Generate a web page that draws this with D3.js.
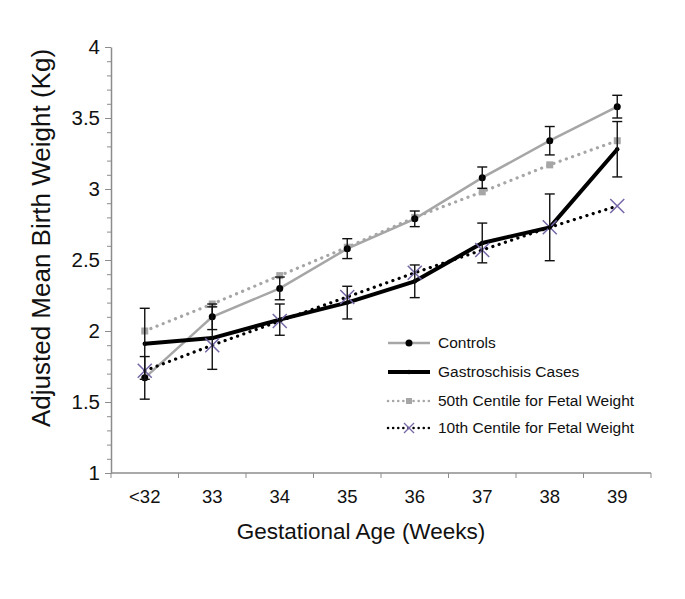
<!DOCTYPE html>
<html>
<head>
<meta charset="utf-8">
<script src="https://cdn.jsdelivr.net/npm/d3@7"></script>
<style>
  html, body { margin: 0; padding: 0; background: #fff; }
  svg { display: block; font-family: "Liberation Sans", Arial, sans-serif; }
</style>
</head>
<body>
<svg id="chart" width="685" height="599"></svg>
<script>
// ---- data ----
const categories = ["<32", "33", "34", "35", "36", "37", "38", "39"];
const controls = [1.67, 2.10, 2.30, 2.58, 2.79, 3.08, 3.34, 3.58];
const controlsErr = [0.15, 0.09, 0.08, 0.07, 0.055, 0.075, 0.10, 0.08];
const gastro = [1.91, 1.95, 2.08, 2.20, 2.35, 2.62, 2.73, 3.28];
const gastroErr = [0.25, 0.22, 0.11, 0.115, 0.115, 0.14, 0.235, 0.195];
const centile50 = [2.00, 2.19, 2.39, 2.59, 2.80, 2.98, 3.17, 3.34];
const centile10 = [1.72, 1.90, 2.07, 2.24, 2.41, 2.57, 2.73, 2.88];
const yTicks = [1, 1.5, 2, 2.5, 3, 3.5, 4];
const seriesNames = ["Controls", "Gastroschisis Cases", "50th Centile for Fetal Weight", "10th Centile for Fetal Weight"];

(function () {
// ---- layout ----
const svg = d3.select("#chart");
const mLeft = 111, mRight = 651, mTop = 47, mBottom = 473;
const axisColor = "#8c8c8c";
const grey = "#a6a6a6";
const purple = "#7566a6";

const x = d3.scaleBand().domain(categories).range([mLeft, mRight]).padding(0);
const cx = d => x(d) + x.bandwidth() / 2;
const y = d3.scaleLinear().domain([1, 4]).range([mBottom, mTop]);

// y axis minor ticks
const minor = d3.range(10, 41).map(v => v / 10).filter(v => Math.abs(v * 2 - Math.round(v * 2)) > 1e-6);
svg.append("g").attr("transform", `translate(${mLeft},0)`)
  .call(d3.axisLeft(y).tickValues(minor).tickSize(4).tickFormat(""))
  .call(g => g.selectAll("line").attr("stroke", axisColor).attr("stroke-width", 1))
  .call(g => g.select(".domain").remove());

// y axis major
svg.append("g").attr("transform", `translate(${mLeft},0)`)
  .call(d3.axisLeft(y).tickValues(yTicks).tickSize(6).tickSizeOuter(0).tickPadding(5).tickFormat(d3.format("")))
  .call(g => g.select(".domain").attr("stroke", axisColor).attr("stroke-width", 1.5))
  .call(g => g.selectAll("line").attr("stroke", axisColor).attr("stroke-width", 1))
  .call(g => g.selectAll("text").attr("font-size", 20.5).attr("fill", "#111").attr("font-family", "Liberation Sans, Arial, sans-serif"));

// x axis
const xb = svg.append("g").attr("transform", `translate(0,${mBottom})`);
xb.append("line").attr("x1", mLeft).attr("x2", mRight).attr("y1", 0).attr("y2", 0)
  .attr("stroke", axisColor).attr("stroke-width", 1.5);
const boundaries = categories.map(c => x(c)).concat([x(categories[categories.length - 1]) + x.bandwidth()]);
xb.selectAll("line.tk").data(boundaries).enter().append("line").attr("class", "tk")
  .attr("x1", d => d).attr("x2", d => d).attr("y1", 0).attr("y2", 5)
  .attr("stroke", axisColor).attr("stroke-width", 1);
xb.selectAll("text").data(categories).enter().append("text")
  .attr("x", d => cx(d)).attr("y", 30).attr("text-anchor", "middle")
  .attr("font-size", 18.5).attr("fill", "#111").text(d => d);

// titles
svg.append("text").attr("x", 361).attr("y", 539).attr("text-anchor", "middle")
  .attr("font-size", 22.5).attr("fill", "#111").text("Gestational Age (Weeks)");
svg.append("text").attr("transform", "translate(50,238) rotate(-90)").attr("text-anchor", "middle")
  .attr("font-size", 26).attr("fill", "#111").text("Adjusted Mean Birth Weight (Kg)");

const line = d3.line().x((d, i) => cx(categories[i])).y(d => y(d));

// lines
svg.append("path").datum(controls).attr("d", line).attr("fill", "none")
  .attr("stroke", grey).attr("stroke-width", 2.5);
svg.append("path").datum(centile50).attr("d", line).attr("fill", "none")
  .attr("stroke", grey).attr("stroke-width", 3.2).attr("stroke-linecap", "round").attr("stroke-dasharray", "0.1 6.5");
svg.append("path").datum(centile10).attr("d", line).attr("fill", "none")
  .attr("stroke", "#000").attr("stroke-width", 3.2).attr("stroke-linecap", "round").attr("stroke-dasharray", "0.1 6.5");
svg.append("path").datum(gastro).attr("d", line).attr("fill", "none")
  .attr("stroke", "#000").attr("stroke-width", 4).attr("stroke-linejoin", "round");

// markers
svg.append("g").selectAll("rect").data(centile50).enter().append("rect")
  .attr("x", (d, i) => cx(categories[i]) - 3.5).attr("y", d => y(d) - 3.5)
  .attr("width", 7).attr("height", 7).attr("fill", grey);
const xs = 7;
svg.append("g").selectAll("path").data(centile10).enter().append("path")
  .attr("d", (d, i) => {
    const px = cx(categories[i]), py = y(d);
    return `M${px - xs},${py - xs}L${px + xs},${py + xs}M${px - xs},${py + xs}L${px + xs},${py - xs}`;
  })
  .attr("stroke", purple).attr("stroke-width", 1.5).attr("fill", "none");
svg.append("g").selectAll("circle").data(controls).enter().append("circle")
  .attr("cx", (d, i) => cx(categories[i])).attr("cy", d => y(d)).attr("r", 3.5).attr("fill", "#000");
svg.append("g").selectAll("circle").data(gastro).enter().append("circle")
  .attr("cx", (d, i) => cx(categories[i])).attr("cy", d => y(d)).attr("r", 2.2).attr("fill", "#000");

// error bars
function errorBars(vals, errs) {
  const g = svg.append("g").attr("stroke", "#111").attr("stroke-width", 1.4);
  vals.forEach((v, i) => {
    const px = cx(categories[i]);
    const lo = y(v - errs[i]), hi = y(v + errs[i]);
    g.append("line").attr("x1", px).attr("x2", px).attr("y1", lo).attr("y2", hi);
    g.append("line").attr("x1", px - 5).attr("x2", px + 5).attr("y1", lo).attr("y2", lo);
    g.append("line").attr("x1", px - 5).attr("x2", px + 5).attr("y1", hi).attr("y2", hi);
  });
}
errorBars(controls, controlsErr);
errorBars(gastro, gastroErr);

// legend
const lg = svg.append("g");
const ly = [343, 372, 401, 428];
const lx1 = 388, lx2 = 430, lm = 409;
lg.append("line").attr("x1", lx1).attr("x2", lx2).attr("y1", ly[0]).attr("y2", ly[0]).attr("stroke", grey).attr("stroke-width", 2.5);
lg.append("circle").attr("cx", lm).attr("cy", ly[0]).attr("r", 3.5).attr("fill", "#000");
lg.append("line").attr("x1", lx1).attr("x2", lx2).attr("y1", ly[1]).attr("y2", ly[1]).attr("stroke", "#000").attr("stroke-width", 4);
lg.append("circle").attr("cx", lm).attr("cy", ly[1]).attr("r", 2.2).attr("fill", "#000");
lg.append("line").attr("x1", lx1).attr("x2", lx2).attr("y1", ly[2]).attr("y2", ly[2]).attr("stroke", grey).attr("stroke-width", 2.5).attr("stroke-linecap", "round").attr("stroke-dasharray", "0.1 5");
lg.append("rect").attr("x", lm - 3).attr("y", ly[2] - 3).attr("width", 6).attr("height", 6).attr("fill", grey);
lg.append("line").attr("x1", lx1).attr("x2", lx2).attr("y1", ly[3]).attr("y2", ly[3]).attr("stroke", "#000").attr("stroke-width", 2.5).attr("stroke-linecap", "round").attr("stroke-dasharray", "0.1 5");
lg.append("path").attr("d", `M${lm - 5},${ly[3] - 5}L${lm + 5},${ly[3] + 5}M${lm - 5},${ly[3] + 5}L${lm + 5},${ly[3] - 5}`)
  .attr("stroke", purple).attr("stroke-width", 1.3).attr("fill", "#fff");
lg.selectAll("text").data(seriesNames).enter().append("text")
  .attr("x", 438).attr("y", (d, i) => ly[i]).attr("dy", "0.35em")
  .attr("font-size", 15.5).attr("fill", "#111").text(d => d);
})();
</script>
</body>
</html>
